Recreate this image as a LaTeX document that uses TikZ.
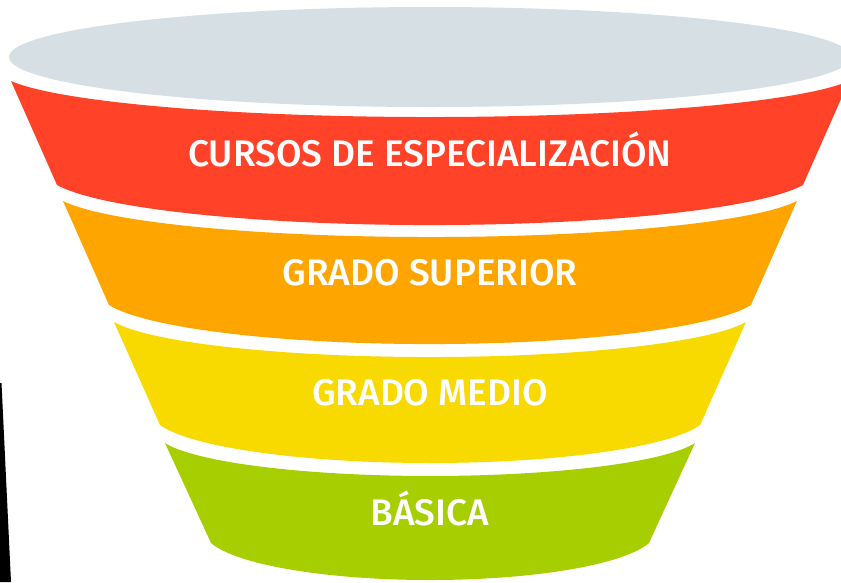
\documentclass[tikz,border=0pt]{standalone}
\usepackage{fontspec}
\setmainfont{Fira Sans}[BoldFont={Fira Sans Medium}]
\usepackage{tikz}

\definecolor{funnelgrey}{RGB}{214,223,228}
\definecolor{bandred}{RGB}{255,66,40}
\definecolor{bandorange}{RGB}{255,165,0}
\definecolor{bandyellow}{RGB}{249,218,0}
\definecolor{bandgreen}{RGB}{166,206,0}

\begin{document}
\begin{tikzpicture}[x=1pt, y=-1pt,
	bandtext/.style={text=white, anchor=base, inner sep=0pt, font=\bfseries\fontsize{37}{37}\selectfont}]
	%\draw[help lines] (0,0) grid[step=50] (841,582);
	\useasboundingbox (0,0) rectangle (841,582);
	\clip (0,0) rectangle (841,582);
	\fill[white] (0,0) rectangle (841,582);
	\fill[black] (0,383) -- (1.5,383) -- (11,582) -- (0,582) -- cycle;
	% top of the funnel
	\fill[funnelgrey] (430,57) ellipse [x radius=421pt, y radius=50pt];
	% bands
	\fill[bandred] (11,81) -- (57,185) arc[start angle=194, end angle=346, x radius=384.4pt, y radius=52.8pt]
		-- (849,81) arc[start angle=346, end angle=194, x radius=431.8pt, y radius=47.5pt] -- cycle;
	\fill[bandorange] (63,201) -- (109,305) arc[start angle=194, end angle=346, x radius=330.8pt, y radius=51.5pt]
		-- (797,201) arc[start angle=346, end angle=194, x radius=378.2pt, y radius=47.5pt] -- cycle;
	\fill[bandyellow] (114,322) -- (160,425) arc[start angle=194, end angle=346, x radius=278.3pt, y radius=50.1pt]
		-- (746,322) arc[start angle=346, end angle=194, x radius=325.7pt, y radius=46.2pt] -- cycle;
	\fill[bandgreen] (165,443) -- (211,543) arc[start angle=194, end angle=346, x radius=225.7pt, y radius=48.8pt]
		-- (695,443) arc[start angle=346, end angle=194, x radius=273.1pt, y radius=43.5pt] -- cycle;
	% labels
	\node[bandtext] (cursos) at (430,166) {CURSOS DE ESPECIALIZACIÓN};
	\node[bandtext] (superior) at (430,285) {GRADO SUPERIOR};
	\node[bandtext] (medio) at (430,405) {GRADO MEDIO};
	\node[bandtext] (basica) at (430,525) {BÁSICA};
\end{tikzpicture}
\end{document}
